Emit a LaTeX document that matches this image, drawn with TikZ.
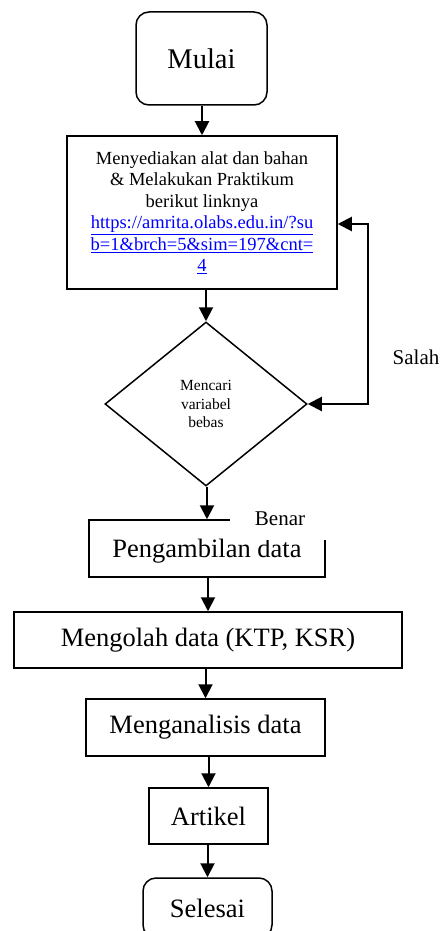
\documentclass[tikz,border=0pt]{standalone}
\usepackage{fontspec}
\setmainfont{Liberation Serif}
\usetikzlibrary{arrows.meta,positioning,shapes.geometric}

\begin{document}
\begin{tikzpicture}[x=1pt,y=-1pt,
    box/.style={draw, line width=1.5pt, inner sep=0pt, font=\fontsize{26.5}{30}\selectfont},
    term/.style={box, rounded corners=13pt},
    flow/.style={line width=2pt, -{Triangle[length=14pt,width=14pt]}}]
    \useasboundingbox (0,0) rectangle (443,931);
    \node[term, minimum width=131, minimum height=93, font=\fontsize{28.5}{32}\selectfont] (mulai) at (201.5,58.5) {Mulai};
    \node[box, minimum width=270, minimum height=153, align=center, font=\fontsize{18.5}{21.5}\selectfont] (siap) at (202,212.5) {Menyediakan alat dan bahan\\\& Melakukan Praktikum\\berikut linknya\\\textcolor{blue}{\underline{https://amrita.olabs.edu.in/?su}}\\\textcolor{blue}{\underline{b=1\&brch=5\&sim=197\&cnt=}}\\\textcolor{blue}{\underline{4}}};
    \node[box, diamond, minimum width=202, minimum height=164, align=center, font=\fontsize{15.5}{18.3}\selectfont] (cari) at (206,404) {Mencari\\variabel\\bebas};
    \node[box, minimum width=236, minimum height=57, text depth=0pt] (ambil) at (207,548.5) {Pengambilan data};
    \node[box, minimum width=388, minimum height=56] (olah) at (208,640) {Mengolah data (KTP, KSR)};
    \node[box, minimum width=239, minimum height=57] (analisis) at (205.5,727.5) {Menganalisis data};
    \node[box, minimum width=119, minimum height=56] (artikel) at (208.5,816) {Artikel};
    \node[term, minimum width=129, minimum height=60] (selesai) at (207.5,908) {Selesai};
    % label jawaban
    \node[fill=white, minimum width=100, minimum height=42, inner sep=0pt, font=\fontsize{21}{24}\selectfont] (benar) at (280,519) {Benar};
    \node[font=\fontsize{21}{24}\selectfont] (salah) at (416,357) {Salah};
    \foreach \a/\b in {mulai/siap,siap/cari,cari/ambil,ambil/olah,olah/analisis,analisis/artikel,artikel/selesai}
        \draw[flow] (\a.south -| \b) -- (\b.north);
    \coordinate (balik) at (368,404);
    \draw[line width=2pt, {Triangle[length=14pt,width=14pt]}-{Triangle[length=14pt,width=14pt]}] ([yshift=-11.5pt]siap.east) -| (balik) -- (cari.east);
\end{tikzpicture}
\end{document}
